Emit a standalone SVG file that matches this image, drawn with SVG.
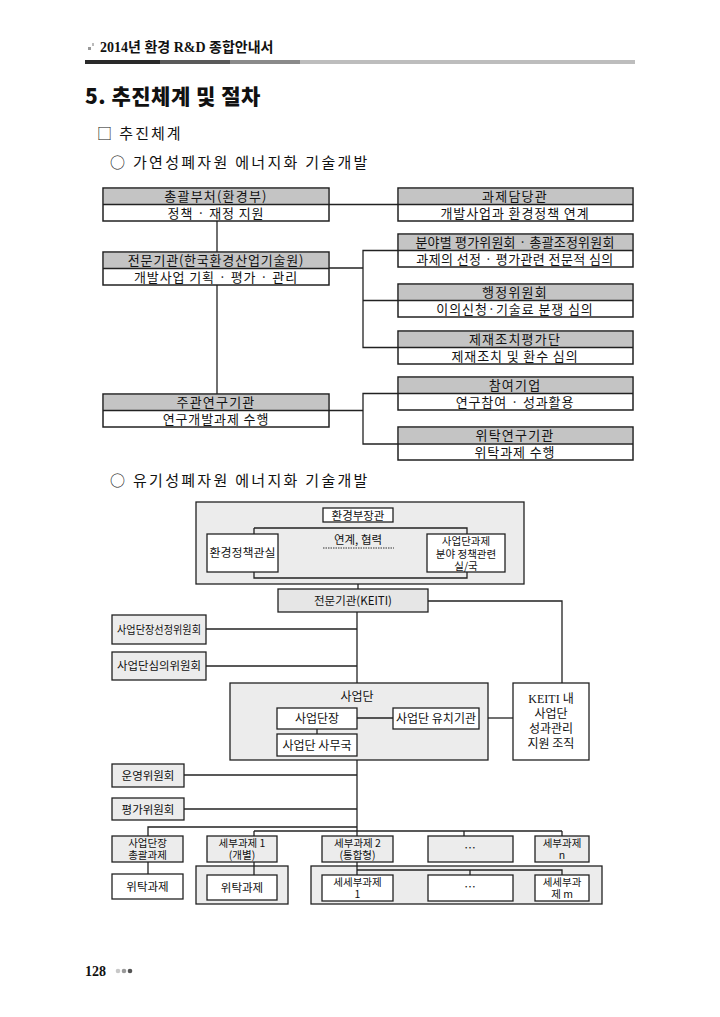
<svg xmlns="http://www.w3.org/2000/svg" width="720" height="1017" viewBox="0 0 720 1017">
<style>
text{font-family:"Noto Sans CJK KR","Noto Sans",sans-serif;fill:#111}
.hd{font-size:13px;text-anchor:middle;letter-spacing:1.2px}
.bd{font-size:13px;text-anchor:middle;letter-spacing:0.9px}
.bx{fill:#fff;stroke:#222;stroke-width:1.5}
.hf{fill:#c4c4c4}
.dv{stroke:#222;stroke-width:1.5}
.ln{stroke:#222;stroke-width:1.3;fill:none}
.g{fill:#ececec;stroke:#222;stroke-width:1.3}
.w{fill:#fff;stroke:#222;stroke-width:1.3}
.s{font-size:11.5px;text-anchor:middle}
.t{font-size:10.5px;text-anchor:middle}
.ser{font-family:"Liberation Serif","Noto Sans CJK KR",serif}
</style>
<rect width="720" height="1017" fill="#fff"/>
<!-- page header -->
<g id="page-header">
<rect x="88" y="47" width="3" height="3" fill="#999"/><rect x="92" y="43" width="2" height="3" fill="#bbb"/>
<text x="100" y="52" style="font-size:14px;font-weight:bold;font-family:'Liberation Serif','Noto Sans CJK KR',serif">2014년 환경 R&amp;D 종합안내서</text>
<rect x="85" y="60" width="75" height="4" fill="#2a2a2a"/>
<rect x="160" y="60" width="70" height="4" fill="#5a5a5a"/>
<rect x="230" y="60" width="70" height="4" fill="#8a8a8a"/>
<rect x="300" y="60" width="335" height="4" fill="#bdbdbd"/>
<text x="85" y="104" style="font-size:21px;font-weight:900;letter-spacing:0.5px">5. 추진체계 및 절차</text>
<text x="97" y="139" style="font-size:15px;letter-spacing:2px">□ 추진체계</text>
<text x="110" y="168" style="font-size:15px;letter-spacing:2.3px">○ 가연성폐자원 에너지화 기술개발</text>
<text x="110" y="486" style="font-size:15px;letter-spacing:2.3px">○ 유기성폐자원 에너지화 기술개발</text>
</g>
<!-- top connectors -->
<g id="connectors-top">
<line class="ln" x1="329" y1="204.5" x2="398" y2="204.5"/>
<line class="ln" x1="217" y1="221" x2="217" y2="394"/>
<line class="ln" x1="329" y1="268" x2="363" y2="268"/>
<polyline class="ln" points="398,250.5 363,250.5 363,347.5 398,347.5"/>
<line class="ln" x1="363" y1="300.5" x2="398" y2="300.5"/>
<line class="ln" x1="329" y1="410.5" x2="363" y2="410.5"/>
<polyline class="ln" points="398,393.5 363,393.5 363,444 398,444"/>
</g>
<!-- top nodes -->
<g id="n-A"><rect class="bx" x="103" y="188" width="226" height="33"/><rect class="hf" x="104" y="189" width="224" height="15.5"/><line class="dv" x1="103" y1="204.5" x2="329" y2="204.5"/><text class="hd" x="216" y="201">총괄부처(환경부)</text><text class="bd" x="216" y="217.5">정책 · 재정 지원</text></g>
<g id="n-B"><rect class="bx" x="398" y="188" width="235" height="33"/><rect class="hf" x="399" y="189" width="233" height="15.5"/><line class="dv" x1="398" y1="204.5" x2="633" y2="204.5"/><text class="hd" x="515" y="201">과제담당관</text><text class="bd" x="515" y="217.5">개발사업과 환경정책 연계</text></g>
<g id="n-C"><rect class="bx" x="103" y="252" width="226" height="33"/><rect class="hf" x="104" y="253" width="224" height="15.5"/><line class="dv" x1="103" y1="268.5" x2="329" y2="268.5"/><text class="hd" x="216" y="265" style="letter-spacing:0.8px">전문기관(한국환경산업기술원)</text><text class="bd" x="216" y="281.5">개발사업 기획 · 평가 · 관리</text></g>
<g id="n-D"><rect class="bx" x="398" y="234" width="235" height="33"/><rect class="hf" x="399" y="235" width="233" height="15.5"/><line class="dv" x1="398" y1="250.5" x2="633" y2="250.5"/><text class="hd" x="515" y="247" style="letter-spacing:0.2px">분야별 평가위원회 · 총괄조정위원회</text><text class="bd" x="515" y="263.5" style="letter-spacing:0.4px">과제의 선정 · 평가관련 전문적 심의</text></g>
<g id="n-E"><rect class="bx" x="398" y="284" width="235" height="33"/><rect class="hf" x="399" y="285" width="233" height="15.5"/><line class="dv" x1="398" y1="300.5" x2="633" y2="300.5"/><text class="hd" x="515" y="297">행정위원회</text><text class="bd" x="515" y="313.5">이의신청·기술료 분쟁 심의</text></g>
<g id="n-F"><rect class="bx" x="398" y="331" width="235" height="33"/><rect class="hf" x="399" y="332" width="233" height="15.5"/><line class="dv" x1="398" y1="347.5" x2="633" y2="347.5"/><text class="hd" x="515" y="344">제재조치평가단</text><text class="bd" x="515" y="360.5">제재조치 및 환수 심의</text></g>
<g id="n-G"><rect class="bx" x="398" y="377" width="235" height="33"/><rect class="hf" x="399" y="378" width="233" height="15.5"/><line class="dv" x1="398" y1="393.5" x2="633" y2="393.5"/><text class="hd" x="515" y="390">참여기업</text><text class="bd" x="515" y="406.5">연구참여 · 성과활용</text></g>
<g id="n-H"><rect class="bx" x="398" y="427" width="235" height="33"/><rect class="hf" x="399" y="428" width="233" height="15.5"/><line class="dv" x1="398" y1="444" x2="633" y2="444"/><text class="hd" x="515" y="440">위탁연구기관</text><text class="bd" x="515" y="456.5">위탁과제 수행</text></g>
<g id="n-I"><rect class="bx" x="103" y="394" width="226" height="33"/><rect class="hf" x="104" y="395" width="224" height="15.5"/><line class="dv" x1="103" y1="410.5" x2="329" y2="410.5"/><text class="hd" x="216" y="407">주관연구기관</text><text class="bd" x="216" y="423.5">연구개발과제 수행</text></g>

<!-- bottom diagram -->
<g id="n-minister"><rect class="g" x="196" y="502" width="328" height="82"/>
<polyline class="ln" points="254,528 467,528 467,578 254,578 254,528"/>
<rect class="w" x="323" y="508" width="70" height="14"/><text class="s" x="358" y="519.5">환경부장관</text>
<text class="s" x="358" y="544">연계, 협력</text>
<line x1="323" y1="548" x2="394" y2="548" stroke="#333" stroke-width="1" stroke-dasharray="1.5,1"/>
</g>
<g id="n-policy"><rect class="w" x="207" y="534" width="71" height="38"/><text class="s" x="242.5" y="557" textLength="66" lengthAdjust="spacingAndGlyphs">환경정책관실</text></g>
<g id="n-dept"><rect class="w" x="427" y="534" width="78" height="38"/><text class="t" x="466" y="545">사업단과제<tspan x="466" dy="12.5">분야 정책관련</tspan><tspan x="466" dy="12.5">실/국</tspan></text></g>

<g id="connectors-bottom">
<line class="ln" x1="358" y1="584" x2="358" y2="589"/>
<polyline class="ln" points="428,601 562,601 562,683"/>
<line class="ln" x1="357" y1="612" x2="357" y2="683"/>
<line class="ln" x1="206" y1="629" x2="357" y2="629"/>
<line class="ln" x1="206" y1="666" x2="357" y2="666"/>
<line class="ln" x1="488" y1="718" x2="513" y2="718"/>
<line class="ln" x1="357" y1="760" x2="357" y2="836"/>
<line class="ln" x1="184" y1="775" x2="357" y2="775"/>
<line class="ln" x1="184" y1="809" x2="357" y2="809"/>
<polyline class="ln" points="357,827 148,827 148,836"/>
<line class="ln" x1="254" y1="831" x2="562" y2="831"/>
<line class="ln" x1="254" y1="831" x2="254" y2="836"/>
<line class="ln" x1="464" y1="831" x2="464" y2="836"/>
<line class="ln" x1="562" y1="831" x2="562" y2="836"/>
<line class="ln" x1="148" y1="862" x2="148" y2="874"/>
</g>

<g id="n-keiti"><rect class="g" x="278" y="589" width="150" height="23" style="fill:#e6e6e6"/><text class="s" x="353" y="605">전문기관(KEITI)</text></g>
<g id="n-sel"><rect class="g" x="112" y="615" width="94" height="29"/><text class="s" x="159" y="634" textLength="84" lengthAdjust="spacingAndGlyphs">사업단장선정위원회</text></g>
<g id="n-delib"><rect class="g" x="112" y="652" width="94" height="28"/><text class="s" x="159" y="670" textLength="84" lengthAdjust="spacingAndGlyphs">사업단심의위원회</text></g>
<g id="n-agency"><rect class="g" x="230" y="683" width="258" height="77"/><text class="s" x="357" y="701" style="font-size:12px">사업단</text>
<line class="ln" x1="357" y1="718" x2="393" y2="718"/>
<line class="ln" x1="317" y1="729" x2="317" y2="734"/>
</g>
<g id="n-head"><rect class="w" x="277" y="708" width="80" height="21"/><text class="s" x="317" y="723" style="font-size:12px">사업단장</text></g>
<g id="n-office"><rect class="w" x="277" y="734" width="80" height="22"/><text class="s" x="317" y="749.5" style="font-size:12px">사업단 사무국</text></g>
<g id="n-host"><rect class="w" x="393" y="708" width="86" height="21"/><text class="s" x="436" y="723" style="font-size:12px">사업단 유치기관</text></g>
<g id="n-support"><rect class="w" x="513" y="683" width="76" height="77"/>
<text class="s" x="551" y="703" style="font-size:12px"><tspan class="ser">KEITI 내</tspan><tspan x="551" dy="15">사업단</tspan><tspan x="551" dy="15">성과관리</tspan><tspan x="551" dy="15">지원 조직</tspan></text></g>
<g id="n-oper"><rect class="g" x="112" y="764" width="72" height="23"/><text class="s" x="148" y="780">운영위원회</text></g>
<g id="n-eval"><rect class="g" x="112" y="798" width="72" height="22"/><text class="s" x="148" y="814">평가위원회</text></g>

<g id="n-r1a"><rect class="g" x="112" y="836" width="71" height="26"/><text class="t" x="147.5" y="846.5">사업단장<tspan x="147.5" dy="12.5">총괄과제</tspan></text></g>
<g id="n-r1b"><rect class="g" x="207" y="836" width="70" height="26"/><text class="t" x="242" y="846.5">세부과제  1<tspan x="242" dy="12.5">(개별)</tspan></text></g>
<g id="n-r1c"><rect class="g" x="322" y="836" width="71" height="26"/><text class="t" x="357.5" y="846.5">세부과제  2<tspan x="357.5" dy="12.5">(통합형)</tspan></text></g>
<g id="n-r1d"><rect class="g" x="428" y="836" width="85" height="26"/><text class="s" x="470" y="852">…</text></g>
<g id="n-r1e"><rect class="g" x="535" y="836" width="54" height="26"/><text class="t" x="562" y="846.5">세부과제<tspan x="562" dy="12.5">n</tspan></text></g>

<g id="n-r2a"><rect class="w" x="112" y="874" width="71" height="25"/><text class="s" x="147.5" y="891">위탁과제</text></g>
<g id="n-c1"><rect class="g" x="196" y="866" width="92" height="38"/>
<line class="ln" x1="254" y1="862" x2="254" y2="875"/>
<rect class="w" x="207" y="875" width="70" height="25"/><text class="s" x="242" y="892">위탁과제</text></g>
<g id="n-c2"><rect class="g" x="311" y="866" width="291" height="38"/>
<line class="ln" x1="357" y1="862" x2="357" y2="875"/>
<polyline class="ln" points="357,870 562,870 562,875"/>
<line class="ln" x1="470" y1="870" x2="470" y2="875"/>
<rect class="w" x="322" y="875" width="71" height="26"/><text class="t" x="357.5" y="885.5">세세부과제<tspan x="357.5" dy="12.5">1</tspan></text>
<rect class="w" x="428" y="875" width="85" height="26"/><text class="s" x="470" y="891">…</text>
<rect class="w" x="535" y="875" width="54" height="26"/><text class="t" x="562" y="885.5">세세부과<tspan x="562" dy="12.5">제  m</tspan></text></g>

<g id="page-footer">
<text x="85" y="976" style="font-size:14px;font-weight:bold;font-family:'Liberation Serif',serif">128</text>
<circle cx="118" cy="971" r="2.3" fill="#c8c8c8"/><circle cx="124" cy="971" r="2.3" fill="#9a9a9a"/><circle cx="130" cy="971" r="2.3" fill="#555"/>
</g>
</svg>
